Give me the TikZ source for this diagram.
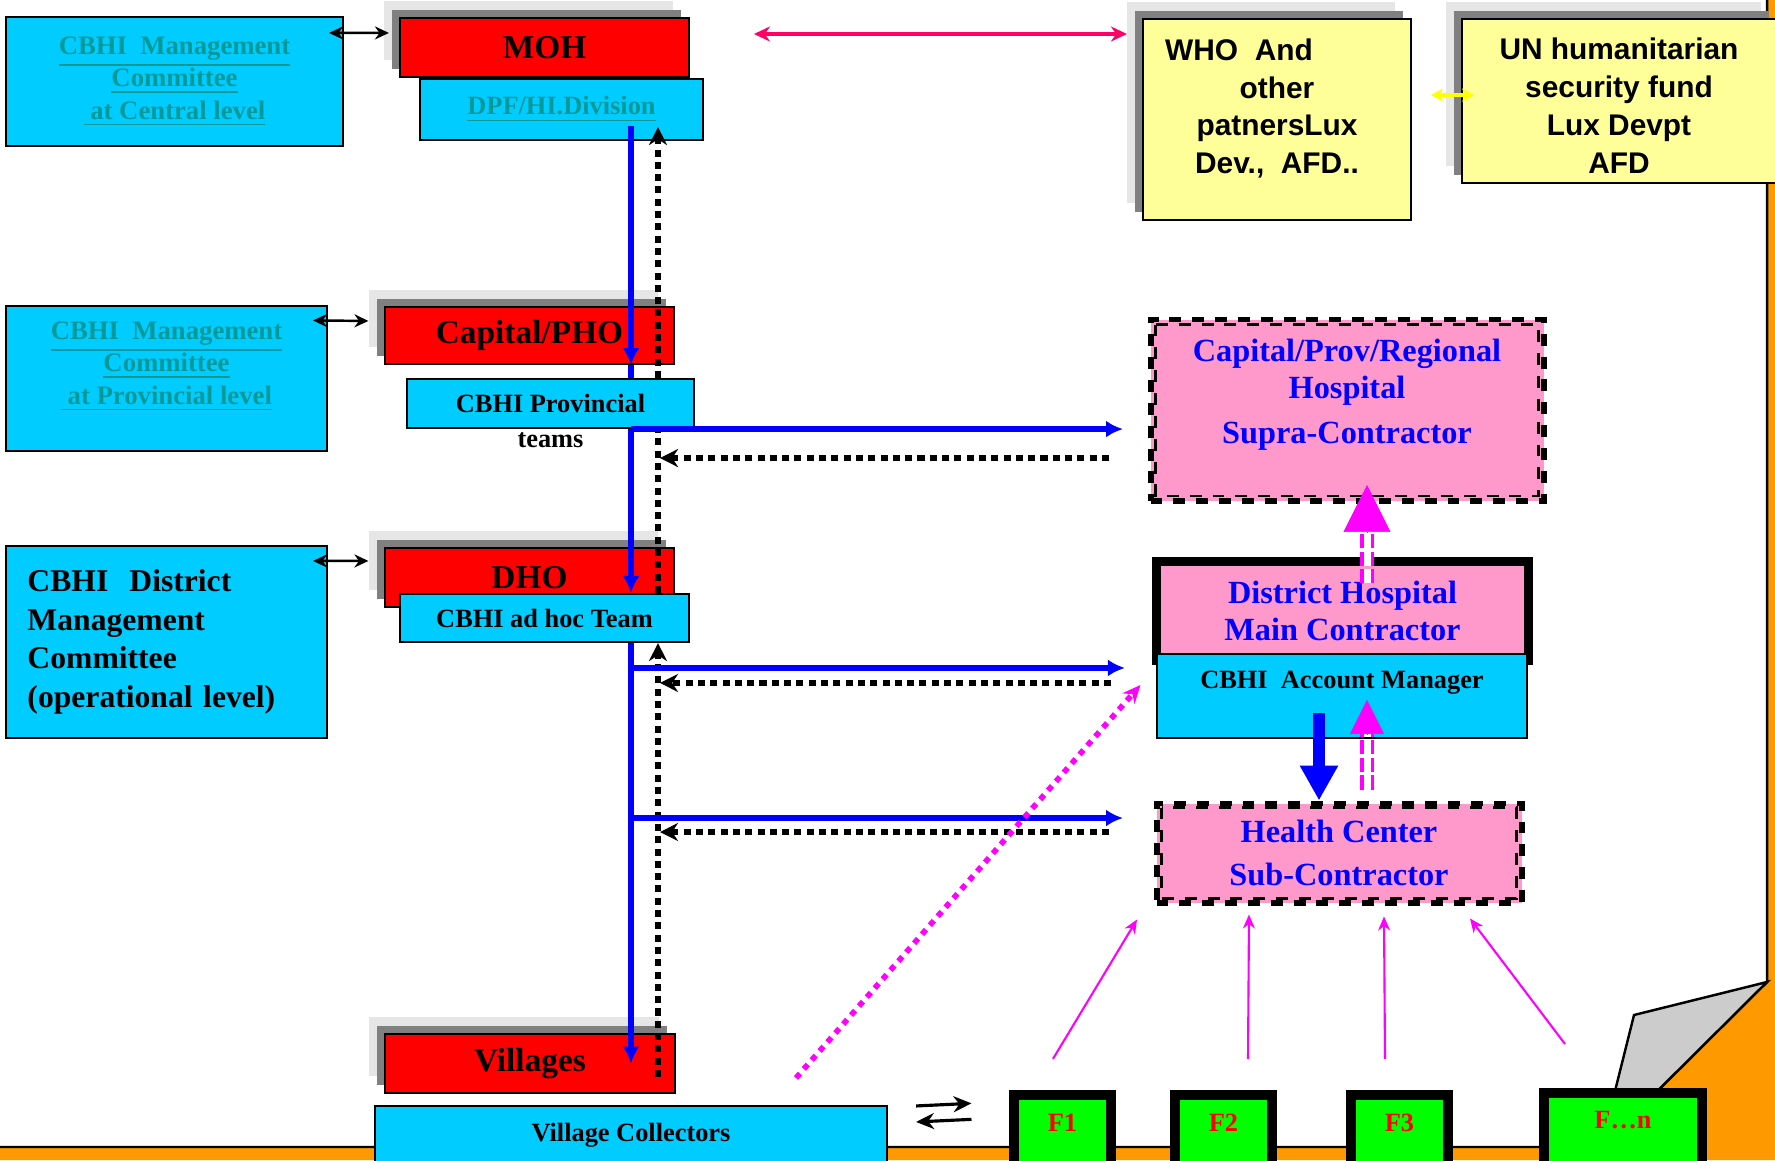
\documentclass[tikz,border=0pt]{standalone}
\usepackage{fontspec}
\setmainfont{Liberation Serif}
\setsansfont{Liberation Sans}
\usepackage{tikz}
\usetikzlibrary{arrows.meta}
\usetikzlibrary{calc}
\usetikzlibrary{positioning}
\usetikzlibrary{shadows}

\definecolor{cbhicyan}{RGB}{0,204,255}
\definecolor{mohred}{RGB}{255,0,0}
\definecolor{partneryellow}{RGB}{255,255,153}
\definecolor{hosppink}{RGB}{255,153,204}
\definecolor{fundgreen}{RGB}{0,255,0}
\definecolor{pageorange}{RGB}{255,153,0}
\definecolor{linkteal}{RGB}{0,153,153}
\definecolor{shadedark}{RGB}{128,128,128}
\definecolor{shadelight}{RGB}{230,230,230}
\definecolor{donorpink}{RGB}{255,0,102}
\definecolor{foldgray}{RGB}{204,204,204}
\definecolor{flowblue}{RGB}{0,0,255}
\definecolor{linkmagenta}{RGB}{255,0,255}
\definecolor{aidyellow}{RGB}{255,255,0}

\tikzset{
  box/.style={draw=black, line width=0.6pt, inner sep=0pt, align=center},
  stack/.style={general shadow={fill=shadelight, shadow xshift=-1.6mm, shadow yshift=1.7mm},
                general shadow={fill=shadedark, shadow xshift=-0.85mm, shadow yshift=0.85mm}},
  office/.style={box, stack, fill=mohred, font=\fontsize{9.5}{11}\selectfont\bfseries},
  team/.style={box, fill=cbhicyan, font=\fontsize{7.5}{9}\selectfont\bfseries},
  committee/.style={box, fill=cbhicyan, text=linkteal, font=\fontsize{7.6}{9.25}\selectfont\bfseries},
  partner/.style={box, stack, fill=partneryellow},
  partnertext/.style={inner sep=0pt, align=center, font=\sffamily\fontsize{8.5}{10.8}\selectfont\bfseries},
  hospital/.style={box, fill=hosppink, text=flowblue, font=\fontsize{9.2}{10.6}\selectfont\bfseries},
  contract/.style={hospital, line width=1.7pt, dash pattern=on 3.4pt off 3.1pt},
  innerdash/.style={line width=0.6pt, dash pattern=on 3.4pt off 3.1pt},
  fund/.style={draw=black, line width=2pt, fill=fundgreen, text=mohred, inner sep=0pt,
               font=\fontsize{7.5}{9}\selectfont\bfseries, text height=3.83mm, text depth=4.3mm},
  flowline/.style={flowblue, line width=1.5pt},
  flow/.style={flowline, -{Latex[length=1.7mm,width=1.7mm]}},
  retline/.style={black, line width=1.7pt, dash pattern=on 2pt off 1.5pt},
  ret/.style={retline, -{Stealth[length=1.8mm,width=1.8mm]}},
  biarrow/.style={black, line width=0.7pt, {Stealth[length=1.4mm,width=1.3mm]}-{Stealth[length=1.4mm,width=1.3mm]}},
  donor/.style={donorpink, line width=1pt, {Stealth[length=1.6mm,width=1.5mm]}-{Stealth[length=1.6mm,width=1.5mm]}},
  aid/.style={aidyellow, line width=1pt, {Stealth[length=1.2mm,width=1.3mm]}-{Stealth[length=1.2mm,width=1.3mm]}},
  magstem/.style={linkmagenta, line width=1.1pt, double=white, double distance=2pt, dash pattern=on 4pt off 1pt},
  maghead/.style={linkmagenta, line width=0.2pt, -{Triangle[length=#1,width=#1]}},
  magdot/.style={linkmagenta, line width=1.6pt, dash pattern=on 1.7pt off 1.7pt, -{Stealth[length=1.8mm,width=1.6mm]}},
  bigflow/.style={flowblue, line width=3.4pt, -{Triangle[length=3.5mm,width=3.6mm]}},
  fundlink/.style={linkmagenta, line width=0.6pt, -{Stealth[length=1.4mm,width=1.2mm]}},
  pairarrow/.style={black, line width=0.9pt, -{Stealth[length=1.8mm,width=1.6mm]}}
}

\begin{document}
\begin{tikzpicture}
    \useasboundingbox (0,0) rectangle (17.75,-11.6);

    \fill[pageorange] (17.67,0) -- (17.75,0) -- (17.75,-11.6) -- (0,-11.6) -- (0,-11.47) -- (16.01,-11.47) -- (17.67,-9.82) -- cycle;
    \draw[line width=0.7pt] (17.67,0) -- (17.67,-9.82) -- (16.01,-11.47) -- (0,-11.47);
    \draw[line width=0.7pt, fill=foldgray] (17.67,-9.82) -- (16.34,-10.15) -- (16.01,-11.47) -- cycle;

    \node[office, minimum width=2.89cm, minimum height=0.59cm] (moh) at (5.445,-0.475) {MOH};
    \node[office, minimum width=2.89cm, minimum height=0.57cm] (pho) at (5.295,-3.355) {Capital/PHO};
    \node[office, minimum width=2.89cm, minimum height=0.59cm] (dho) at (5.295,-5.775) {DHO};
    \node[office, minimum width=2.90cm, minimum height=0.59cm] (vil) at (5.30,-10.635) {Villages};

    \node[team, minimum width=2.83cm, minimum height=0.61cm, text=linkteal] (dpf) at (5.615,-1.095) {\underline{DPF/HI.Division}};
    \node[team, minimum width=2.87cm, minimum height=0.49cm] (prov) at (5.505,-4.035) {CBHI Provincial};
    \node[font=\fontsize{7.5}{9}\selectfont\bfseries, inner sep=0pt, below=0.03cm of prov] (teams) {teams};
    \node[team, minimum width=2.89cm, minimum height=0.48cm] (adhoc) at (5.445,-6.18) {CBHI ad hoc Team};
    \node[team, minimum width=5.12cm, minimum height=0.59cm] (collect) at (6.31,-11.355) {Village Collectors};

    \node[committee, minimum width=3.37cm, minimum height=1.29cm] (central) at (1.745,-0.815)
        {\underline{CBHI\ \ Management}\\\underline{Committee}\\\underline{\ at Central level}};
    \node[committee, minimum width=3.21cm, minimum height=1.45cm] (provcomm) at (1.665,-3.785) {};
    \node[committee, draw=none, fill=none] (provcommtext) at ($(provcomm)+(0,0.12)$)
        {\underline{CBHI\ \ Management}\\\underline{Committee}\\\underline{\ at Provincial level}};
    \node[box, fill=cbhicyan, minimum width=3.21cm, minimum height=1.92cm, text width=2.78cm, align=left,
          font=\fontsize{9}{11}\selectfont\bfseries] (distcomm) at (1.665,-6.42)
        {CBHI\ \ District\\Management\\Committee\\(operational level)};

    \node[partner, minimum width=2.68cm, minimum height=2.01cm] (who) at (12.77,-1.195) {};
    \node[partnertext] (whotext) at ($(who)+(0,0.11)$) {WHO\ \ And\hspace*{7.6mm}\\other\\patnersLux\\Dev.,\ \ AFD..};
    \node[partner, minimum width=3.15cm, minimum height=1.64cm] (un) at (16.195,-1.01) {};
    \node[partnertext] (untext) at ($(un)+(-0.005,-0.05)$) {UN humanitarian\\security fund\\Lux Devpt\\AFD};

    \node[contract, minimum width=3.93cm, minimum height=1.815cm] (supra) at (13.47,-4.1025) {};
    \draw[innerdash] ([shift={(0.08,-0.08)}]supra.north west) rectangle ([shift={(-0.08,0.08)}]supra.south east);
    \node[hospital, draw=none, fill=none] (supratext) at ($(supra)+(0,0.155)$)
        {Capital/Prov/Regional\\Hospital\\[2.2pt]Supra-Contractor};

    \node[hospital, line width=2pt, minimum width=3.73cm, minimum height=1.0cm] (dh) at (13.425,-6.11)
        {District Hospital\\Main Contractor};
    \draw[line width=0.7pt] ([shift={(0.075,-0.075)}]dh.north west) rectangle ([shift={(-0.075,0.075)}]dh.south east);
    \node[team, minimum width=3.70cm, text height=3.45mm, text depth=4.95mm] (acct) at (13.42,-6.96) {CBHI\ \ Account Manager};

    \node[contract, minimum width=3.65cm, minimum height=0.99cm, font=\fontsize{9.2}{12}\selectfont\bfseries] (hc) at (13.39,-8.53)
        {Health Center\\Sub-Contractor};
    \draw[innerdash] ([shift={(0.08,-0.07)}]hc.north west) rectangle ([shift={(-0.08,0.07)}]hc.south east);

    \node[fund, minimum width=1.0cm] (f1) at (10.625,-11.34) {F1};
    \node[fund, minimum width=1.0cm] (f2) at (12.235,-11.34) {F2};
    \node[fund, minimum width=1.0cm] (f3) at (13.995,-11.34) {F3};
    \node[fund, minimum width=1.61cm, text height=3.73mm, text depth=4.77mm] (fn) at (16.23,-11.34) {F…n};
    \foreach \f in {f1,f2,f3,fn}
        \draw[line width=0.7pt] ([shift={(0.085,-0.085)}]\f.north west) rectangle ([shift={(-0.085,0.085)}]\f.south east);

    \draw[biarrow] ($(central.north east)+(-0.15,-0.17)$) -- ($(moh.north west)+(-0.10,-0.16)$);
    \draw[biarrow] ($(provcomm.north east)+(-0.15,-0.155)$) -- ($(pho.north west)+(-0.155,-0.15)$);
    \draw[biarrow] ($(distcomm.north east)+(-0.15,-0.16)$) -- ($(dho.north west)+(-0.155,-0.14)$);

    \coordinate (mohlink) at (7.54,-0.34);
    \draw[donor] (mohlink) -- ($(who.west)+(-0.15,0.855)$);
    \draw[aid] ($(who.east)+(0.19,0.245)$) -- ($(un.west)+(0.13,0.06)$);

    \coordinate (bluetop) at ($(dpf.south)+(0.695,0.15)$);
    \coordinate (dottip) at ($(dpf.south)+(0.965,0.14)$);
    \draw[flow] (bluetop) -- (bluetop |- pho.south);
    \draw[flowline] (bluetop |- pho.south) -- (bluetop |- prov.north);
    \draw[flow] (bluetop |- prov.south) -- (bluetop |- adhoc.north);
    \draw[flow] (bluetop |- adhoc.south) -- (bluetop |- vil.center);
    \draw[ret] (dottip |- prov.north) -- (dottip);
    \draw[retline] (dottip |- adhoc.north) -- (dottip |- prov.south);
    \draw[ret] ($(dottip |- vil.center)+(0,-0.135)$) -- (dottip |- adhoc.south);

    \coordinate (t1) at ($(supra.west |- prov.south)+(-0.245,0)$);
    \coordinate (r1) at ($(t1)+(-0.14,-0.29)$);
    \coordinate (t2) at ($(acct.north west)+(-0.31,-0.15)$);
    \coordinate (r2) at ($(t2)+(-0.14,-0.15)$);
    \coordinate (t3) at ($(hc.north west)+(-0.305,-0.175)$);
    \coordinate (r3) at ($(t3)+(-0.14,-0.14)$);
    \draw[flow] (bluetop |- t1) -- (t1);
    \draw[ret] (r1) -- ($(dottip |- r1)+(0.02,0)$);
    \draw[flow] (bluetop |- t2) -- (t2);
    \draw[ret] (r2) -- ($(dottip |- r2)+(0.02,0)$);
    \draw[flow] (bluetop |- t3) -- (t3);
    \draw[ret] (r3) -- ($(dottip |- r3)+(0.02,0)$);

    \coordinate (up1) at ($(supra.south)+(0.20,0.19)$);
    \draw[magstem] ($(up1 |- dh.north)+(0,-0.26)$) -- ($(up1)+(0,-0.48)$);
    \draw[maghead=4.7mm] ($(up1)+(0,-0.48)$) -- (up1);
    \coordinate (up2) at ($(acct.north)+(0.25,-0.47)$);
    \draw[magstem] ($(up2 |- hc.north)+(0,0.11)$) -- ($(up2)+(0,-0.34)$);
    \draw[maghead=3.4mm] ($(up2)+(0,-0.35)$) -- (up2);
    \coordinate (down) at ($(acct.south)+(-0.23,0.26)$);
    \draw[bigflow] (down) -- (down |- hc.north);

    \coordinate (diagfoot) at (7.96,-10.78);
    \draw[magdot] (diagfoot) -- ($(acct.west)+(-0.155,0.11)$);

    \draw[fundlink] ($(f1.north)+(-0.095,0.31)$) -- ($(hc.south)+(-2.02,-0.14)$);
    \draw[fundlink] ($(f2.north)+(0.245,0.31)$) -- ($(hc.south)+(-0.90,-0.09)$);
    \draw[fundlink] ($(f3.north)+(-0.145,0.31)$) -- ($(hc.south)+(0.45,-0.11)$);
    \draw[fundlink] ($(fn.north)+(-0.58,0.44)$) -- ($(hc.south)+(1.31,-0.13)$);

    \draw[pairarrow] ($(collect.north east)+(0.28,-0.01)$) -- ($(f1.north west)+(-0.375,-0.135)$);
    \draw[pairarrow] ($(f1.north west)+(-0.375,-0.295)$) -- ($(collect.north east)+(0.28,-0.17)$);
\end{tikzpicture}
\end{document}
